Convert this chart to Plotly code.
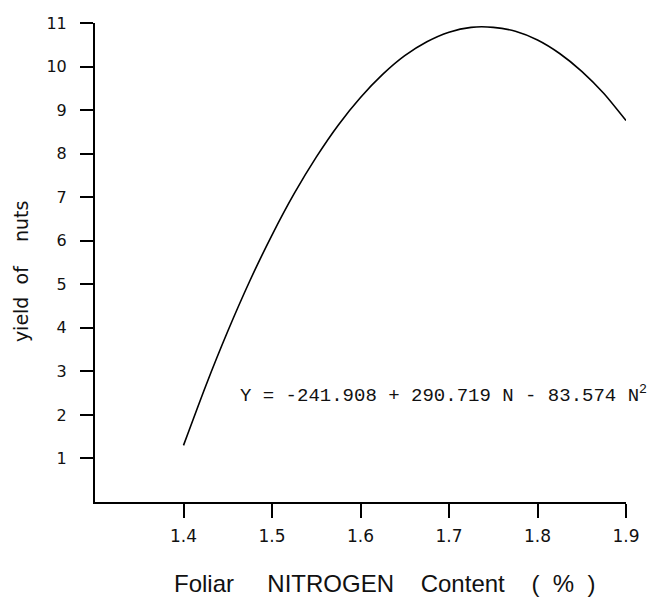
import plotly.graph_objects as go

# Foliar nitrogen content (%) and yield of nuts
nitrogen = [1.400, 1.425, 1.450, 1.475, 1.500, 1.525, 1.550, 1.575, 1.600, 1.625, 1.650,
            1.675, 1.700, 1.725, 1.750, 1.775, 1.800, 1.825, 1.850, 1.875, 1.900]
yield_nuts = [1.30, 2.66, 3.92, 5.08, 6.13, 7.08, 7.92, 8.66, 9.29, 9.82, 10.25,
              10.57, 10.79, 10.90, 10.90, 10.81, 10.61, 10.30, 9.89, 9.38, 8.76]

x_ticks = [1.4, 1.5, 1.6, 1.7, 1.8, 1.9]
x_tick_text = ["1.4", "1.5", "1.6", "1.7", "1.8", "1.9"]
y_ticks = [1, 2, 3, 4, 5, 6, 7, 8, 9, 10, 11]
y_tick_text = ["1", "2", "3", "4", "5", "6", "7", "8", "9", "10", "11"]

equation = "Y = -241.908 + 290.719 N - 83.574 N<sup>2</sup>"

fig = go.Figure()
fig.add_trace(go.Scatter(
    x=nitrogen, y=yield_nuts, mode="lines",
    line=dict(color="black", width=1.6, shape="spline", smoothing=0.6),
    cliponaxis=False, showlegend=False, hoverinfo="skip",
))

nb = "\u00a0"

fig.update_layout(
    width=647, height=602,
    margin=dict(l=95, r=21, t=23, b=100),
    paper_bgcolor="white", plot_bgcolor="white",
    xaxis=dict(
        range=[1.3, 1.9], tickmode="array", tickvals=x_ticks, ticktext=x_tick_text,
        showgrid=False, zeroline=False, showline=True, linecolor="black", linewidth=2,
        ticks="outside", ticklen=14, tickwidth=2, tickcolor="black",
        ticklabelstandoff=4, automargin=False,
        tickfont=dict(family="DejaVu Sans, sans-serif", size=17, color="#111"),
    ),
    yaxis=dict(
        range=[0, 11], tickmode="array", tickvals=y_ticks, ticktext=y_tick_text,
        showgrid=False, zeroline=False, showline=True, linecolor="black", linewidth=2,
        ticks="outside", ticklen=13, tickwidth=1.5, tickcolor="black",
        ticklabelstandoff=10, automargin=False,
        tickfont=dict(family="DejaVu Sans, sans-serif", size=16, color="#111"),
    ),
    annotations=[
        dict(text="yield" + nb * 2 + "of" + nb * 4 + "nuts", xref="paper", yref="paper",
             x=0, y=0.482, xshift=-74, xanchor="center", yanchor="middle",
             textangle=-90, showarrow=False,
             font=dict(family="DejaVu Sans, sans-serif", size=19, color="#111")),
        dict(text="Foliar" + nb * 5 + "NITROGEN" + nb * 4 + "Content" + nb * 4 + "(" + nb * 2
             + "%" + nb * 2 + ")",
             xref="paper", yref="paper", x=0.546, y=0, yshift=-81,
             xanchor="center", yanchor="middle", showarrow=False,
             font=dict(family="Liberation Sans, Arial, sans-serif", size=24, color="#111")),
        dict(text=equation, xref="x", yref="y", x=1.4618, y=2.48, xanchor="left",
             showarrow=False,
             font=dict(family="Liberation Mono, DejaVu Sans Mono, monospace", size=19, color="#111")),
    ],
)

fig.write_html("out.html")
